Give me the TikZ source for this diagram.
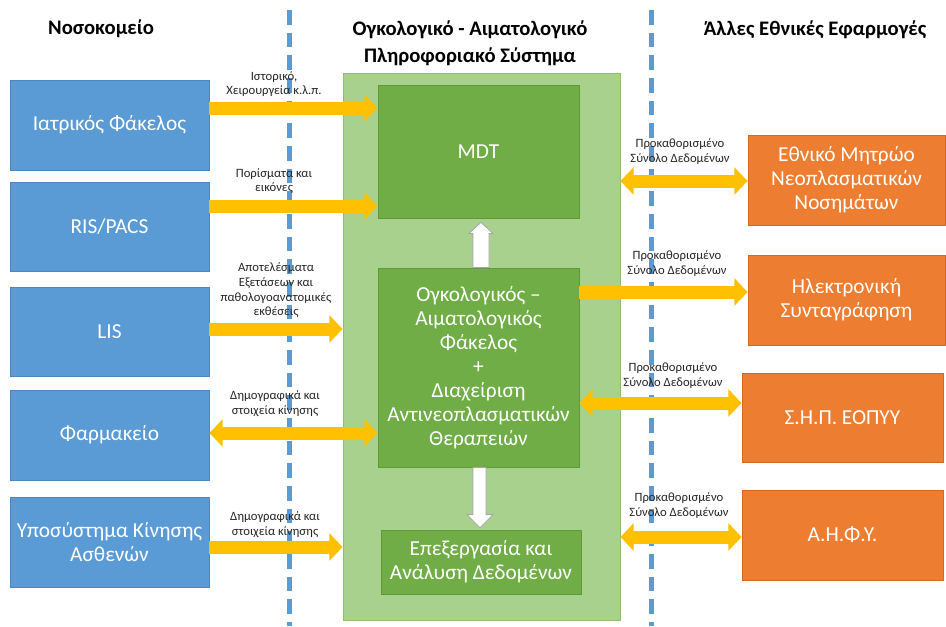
\documentclass[tikz,border=0pt]{standalone}
\usepackage{fontspec}
\setmainfont{Carlito}
\usetikzlibrary{arrows.meta,calc}
\definecolor{dblue}{HTML}{5B9BD5}
\definecolor{dbluebd}{HTML}{4A86C0}
\definecolor{orng}{HTML}{ED7D31}
\definecolor{orngbd}{HTML}{D46A22}
\definecolor{lgreen}{HTML}{A9D18E}
\definecolor{lgreenbd}{HTML}{8DBF6C}
\definecolor{dgreen}{HTML}{70AD47}
\definecolor{dgreenbd}{HTML}{5E9A38}
\definecolor{yarr}{HTML}{FFC000}
\tikzset{
  boxtxt/.style={font=\fontsize{16}{18}\selectfont, text=white, align=center, inner sep=0pt},
  bluebox/.style={boxtxt, fill=dblue, draw=dbluebd, line width=0.6pt, minimum width=199*0.75pt, minimum height=90*0.75pt},
  orangebox/.style={boxtxt, fill=orng, draw=orngbd, line width=0.6pt, minimum width=199*0.75pt, minimum height=90*0.75pt},
  greenbox/.style={boxtxt, fill=dgreen, draw=dgreenbd, line width=0.6pt, minimum width=201*0.75pt},
  title/.style={font=\fontsize{15.5}{20}\selectfont\bfseries, align=center, inner sep=0pt},
  lbl/.style={font=\fontsize{9.5}{11}\selectfont, align=center, inner sep=0pt, text=black!85},
  divider/.style={draw=dblue, line width=3.75pt, dash pattern=on 11pt off 6pt},
  yarrow/.style={draw=yarr, line width=9.75pt, -{Triangle[length=10pt, width=20.25pt]}},
  ydarrow/.style={draw=yarr, line width=9.75pt, {Triangle[length=10pt, width=20.25pt]}-{Triangle[length=10pt, width=20.25pt]}},
  warrow/.style={fill=white, draw=black!35, line width=0.6pt, line join=miter}
}
\begin{document}
\begin{tikzpicture}[x=0.75pt,y=-0.75pt]
\useasboundingbox (0,0) rectangle (946,626);
\fill[white] (0,0) rectangle (946,626);
% dividers
\coordinate (d1t) at (289,10); \coordinate (d1b) at (289,626);
\coordinate (d2t) at (651,10); \coordinate (d2b) at (651,626);
\draw[divider] (d1t) -- (d1b);
\draw[divider] (d2t) -- (d2b);
% titles
\node[title] (t1) at (101,29) {Νοσοκομείο};
\node[title] (t2) at (470,43.5) {Ογκολογικό - Αιματολογικό\\Πληροφοριακό Σύστημα};
\node[title] (t3) at (815,30) {Άλλες Εθνικές Εφαρμογές};
% system frame
\node[fill=lgreen, draw=lgreenbd, line width=0.6pt, minimum width=277*0.75pt, minimum height=547*0.75pt, inner sep=0pt] (sys) at (481.5,346.5) {};
\node[greenbox, minimum height=133*0.75pt] (mdt) at (478.5,151.5) {MDT};
\node[greenbox, minimum height=199*0.75pt] (ofak) at (478.5,367.5) {Ογκολογικός –\\Αιματολογικός\\Φάκελος\\+\\Διαχείριση\\Αντινεοπλασματικών\\Θεραπειών};
\node[greenbox, minimum width=200*0.75pt, minimum height=64*0.75pt] (anal) at (481,562) {Επεξεργασία και\\Ανάλυση Δεδομένων};
% hospital
\node[bluebox] (b1) at (109.5,125) {Ιατρικός Φάκελος};
\node[bluebox, minimum height=89*0.75pt] (b2) at (109.5,226.5) {RIS/PACS};
\node[bluebox, minimum height=89*0.75pt] (b3) at (109.5,331.5) {LIS};
\node[bluebox] (b4) at (109.5,435) {Φαρμακείο};
\node[bluebox] (b5) at (109.5,542) {Υποσύστημα Κίνησης\\Ασθενών};
% national
\node[orangebox, minimum width=197*0.75pt] (o1) at (846.5,180) {Εθνικό Μητρώο\\Νεοπλασματικών\\Νοσημάτων};
\node[orangebox, minimum width=197*0.75pt] (o2) at (846.5,300) {Ηλεκτρονική\\Συνταγράφηση};
\node[orangebox, minimum width=201*0.75pt, minimum height=89*0.75pt] (o3) at (842.5,417.5) {Σ.Η.Π. ΕΟΠΥΥ};
\node[orangebox, minimum width=201*0.75pt] (o4) at (842.5,535) {Α.Η.Φ.Υ.};
% white arrows
\draw[warrow] ($(ofak.north)+(-5.5,0)$) -- ($(mdt.south)+(-5.5,15)$) -- ($(mdt.south)+(-9.5,15)$) -- ($(mdt.south)+(2.5,4)$) -- ($(mdt.south)+(14.5,15)$) -- ($(mdt.south)+(10.5,15)$) -- ($(ofak.north)+(10.5,0)$) -- cycle;
\draw[warrow] ($(ofak.south)+(-5.5,0)$) -- ($(anal.north)+(-8,-15)$) -- ($(anal.north)+(-14,-15)$) -- ($(anal.north)+(-1,-2)$) -- ($(anal.north)+(12,-15)$) -- ($(anal.north)+(5,-15)$) -- ($(ofak.south)+(7.5,0)$) -- cycle;
% arrow rows
\coordinate (r1) at (0,108); \coordinate (r2) at (0,206); \coordinate (r3) at (0,329);
\coordinate (r4) at (0,433); \coordinate (r5) at (0,547);
\coordinate (s1) at (0,181); \coordinate (s2) at (0,292); \coordinate (s3) at (0,403); \coordinate (s4) at (0,537);
\draw[yarrow] (b1.east |- r1) -- (mdt.west |- r1);
\draw[yarrow] (b2.east |- r2) -- (mdt.west |- r2);
\draw[yarrow] (b3.east |- r3) -- (sys.west |- r3);
\draw[ydarrow] (b4.east |- r4) -- (ofak.west |- r4);
\draw[yarrow] (b5.east |- r5) -- (sys.west |- r5);
\draw[ydarrow] (sys.east |- s1) -- (o1.west |- s1);
\draw[yarrow] (ofak.east |- s2) -- (o2.west |- s2);
\draw[ydarrow] (ofak.east |- s3) -- (o3.west |- s3);
\draw[ydarrow] (sys.east |- s4) -- (o4.west |- s4);
% labels
\node[lbl] (l1) at (274,84) {Ιστορικό,\\Χειρουργεία κ.λ.π.};
\node[lbl] (l2) at (274,181) {Πορίσματα και\\εικόνες};
\node[lbl] (l3) at (276,290.5) {Αποτελέσματα\\Εξετάσεων και\\παθολογοανατομικές\\εκθέσεις};
\node[lbl] (l4) at (275,403.5) {Δημογραφικά και\\στοιχεία κίνησης};
\node[lbl] (l5) at (275,524.5) {Δημογραφικά και\\στοιχεία κίνησης};
\node[lbl] (q1) at (680,151.5) {Προκαθορισμένο\\Σύνολο Δεδομένων};
\node[lbl] (q2) at (677,263.5) {Προκαθορισμένο\\Σύνολο Δεδομένων};
\node[lbl] (q3) at (673,375.5) {Προκαθορισμένο\\Σύνολο Δεδομένων};
\node[lbl] (q4) at (679,505.5) {Προκαθορισμένο\\Σύνολο Δεδομένων};
\end{tikzpicture}
\end{document}
